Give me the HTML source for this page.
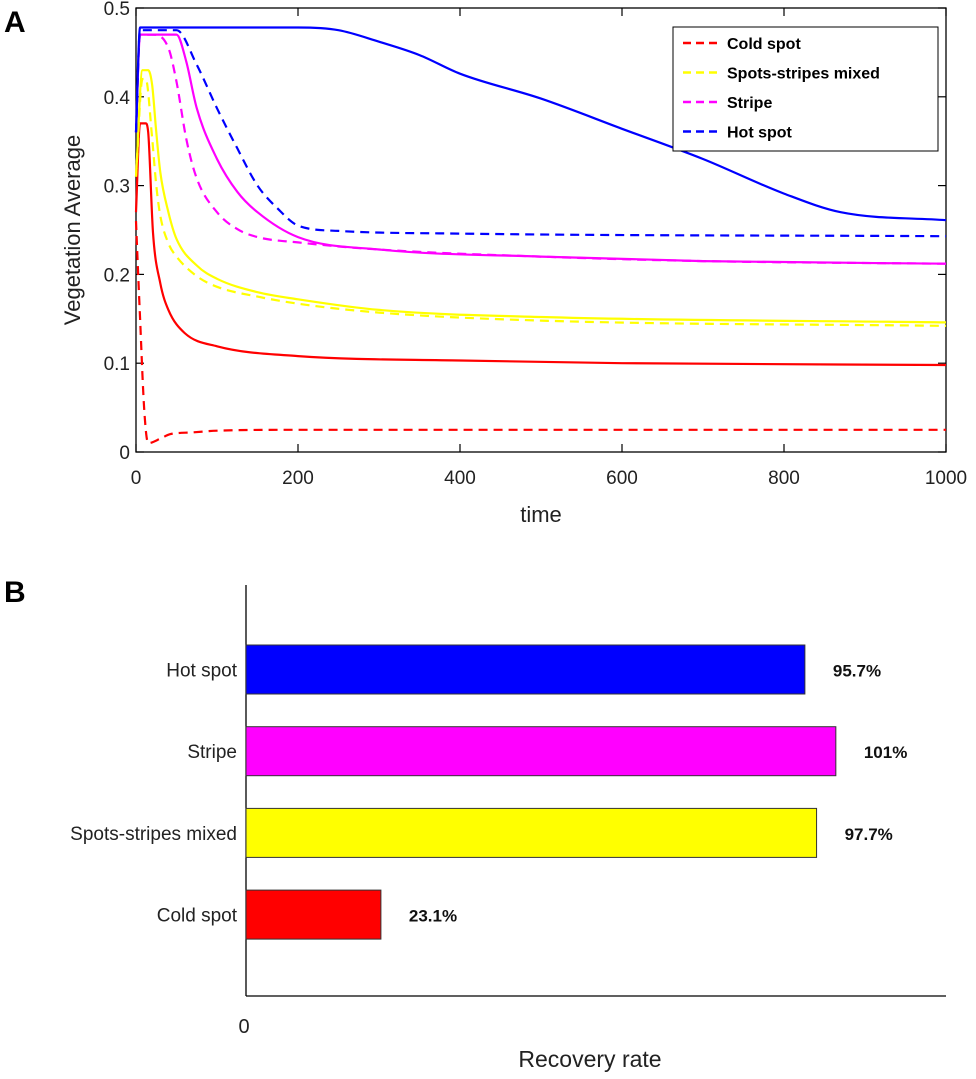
<!DOCTYPE html>
<html><head><meta charset="utf-8"><style>
body{margin:0;background:#fff;}
svg{display:block;font-family:"Liberation Sans",Arial,sans-serif;}
</style></head><body>
<svg id="c" width="976" height="1079" viewBox="0 0 976 1079"></svg>
<script>
// ---- Panel A data ----
const xTicks=[0,200,400,600,800,1000];
const yTicks=[0,0.1,0.2,0.3,0.4,0.5];
const seriesNames=["Cold spot","Spots-stripes mixed","Stripe","Hot spot"];
const seriesColors=["#ff0000","#ffff00","#ff00ff","#0000ff"];
const coldT=[0,5,12,15,21,30,40,60,100,200,400,600,1000];
const coldSolid=[0.27,0.37,0.37,0.36,0.247,0.19,0.16,0.134,0.119,0.108,0.103,0.100,0.098];
const coldDT=[0,5,10,15,30,42,68,100,200,1000];
const coldDashed=[0.26,0.15,0.05,0.01,0.015,0.02,0.022,0.024,0.025,0.025];
const mixT=[0,8,15,20,25,30,40,50,75,100,150,200,300,500,1000];
const mixSolid=[0.31,0.43,0.43,0.413,0.36,0.315,0.27,0.24,0.21,0.195,0.18,0.172,0.16,0.152,0.146];
const mixDT=[0,8,12,20,25,30,40,50,75,100,150,200,300,500,1000];
const mixDashed=[0.31,0.42,0.42,0.353,0.30,0.266,0.235,0.22,0.198,0.186,0.175,0.167,0.157,0.148,0.142];
const stripeT=[0,5,50,62,75,100,125,150,200,300,500,700,1000];
const stripeSolid=[0.36,0.47,0.47,0.44,0.387,0.33,0.293,0.27,0.242,0.228,0.22,0.215,0.212];
const stripeDT=[0,5,20,40,50,62,75,100,125,150,200,300,500,700,1000];
const stripeDashed=[0.36,0.47,0.47,0.455,0.417,0.353,0.308,0.27,0.251,0.242,0.236,0.228,0.22,0.215,0.212];
const hotT=[0,5,200,250,300,350,400,500,600,700,800,870,1000];
const hotSolid=[0.36,0.478,0.478,0.475,0.462,0.447,0.426,0.398,0.364,0.330,0.291,0.27,0.261];
const hotDT=[0,5,50,75,100,125,150,175,200,250,400,1000];
const hotDashed=[0.36,0.475,0.475,0.436,0.387,0.342,0.30,0.274,0.255,0.249,0.246,0.243];
// ---- Panel B data ----
const barCats=["Hot spot","Stripe","Spots-stripes mixed","Cold spot"];
const barVals=[95.7,101,97.7,23.1];
const barLabels=["95.7%","101%","97.7%","23.1%"];
const barColors=["#0000ff","#ff00ff","#ffff00","#ff0000"];

const NS="http://www.w3.org/2000/svg";
const svg=document.getElementById('c');
function mk(tag,attrs,parent,text){const e=document.createElementNS(NS,tag);for(const k in attrs)e.setAttribute(k,attrs[k]);if(text!==undefined)e.textContent=text;(parent||svg).appendChild(e);return e;}

const L=136,R=946,T=8,B=452;
const xs=t=>L+(R-L)*t/1000;
const ys=v=>B-(B-T)*v/0.5;
let e;
e=mk('text',{x:4,y:32,'font-size':30,'font-weight':'bold'},svg,'A');

const gA=mk('g',{});

e=mk('rect',{x:L,y:T,width:R-L,height:B-T,fill:'none',stroke:'#000','stroke-width':1.3},gA);

xTicks.forEach(t=>{
 mk('line',{x1:xs(t),x2:xs(t),y1:B,y2:B-8,stroke:'#000','stroke-width':1.2},gA);
 mk('line',{x1:xs(t),x2:xs(t),y1:T,y2:T+8,stroke:'#000','stroke-width':1.2},gA);
 e=mk('text',{x:xs(t),y:B+32,'font-size':19,'text-anchor':'middle',fill:'#222'},gA,String(t));
 
});
yTicks.forEach(v=>{
 mk('line',{x1:L,x2:L+8,y1:ys(v),y2:ys(v),stroke:'#000','stroke-width':1.2},gA);
 mk('line',{x1:R,x2:R-8,y1:ys(v),y2:ys(v),stroke:'#000','stroke-width':1.2},gA);
 e=mk('text',{x:L-6,y:ys(v)+7,'font-size':19,'text-anchor':'end',fill:'#222'},gA,String(v));
 
});
e=mk('text',{x:0,y:0,'font-size':22,'text-anchor':'middle',fill:'#222',transform:'translate(80,230) rotate(-90)'},gA,'Vegetation Average');

e=mk('text',{x:541,y:522,'font-size':22,'text-anchor':'middle',fill:'#222'},gA,'time');


// monotone cubic path (Fritsch-Carlson)
function monoPath(px,py){
 const n=px.length,d=[],m=[];
 for(let i=0;i<n-1;i++)d.push((py[i+1]-py[i])/(px[i+1]-px[i]));
 m[0]=d[0];m[n-1]=d[n-2];
 for(let i=1;i<n-1;i++){m[i]=(d[i-1]*d[i]<=0)?0:(d[i-1]+d[i])/2;}
 for(let i=0;i<n-1;i++){
  if(d[i]===0){m[i]=0;m[i+1]=0;continue;}
  const a=m[i]/d[i],b=m[i+1]/d[i],s=a*a+b*b;
  if(s>9){const t=3/Math.sqrt(s);m[i]=t*a*d[i];m[i+1]=t*b*d[i];}
 }
 let s='M'+px[0].toFixed(1)+','+py[0].toFixed(1);
 for(let i=0;i<n-1;i++){
  const h=(px[i+1]-px[i])/3;
  s+=' C'+(px[i]+h).toFixed(1)+','+(py[i]+m[i]*h).toFixed(1)+' '+(px[i+1]-h).toFixed(1)+','+(py[i+1]-m[i+1]*h).toFixed(1)+' '+px[i+1].toFixed(1)+','+py[i+1].toFixed(1);
 }
 return s;
}
function line(ts,vs,color,dashed,name){
 const d=monoPath(ts.map(xs),vs.map(ys));
 const p=mk('path',{d:d,fill:'none',stroke:color,'stroke-width':2.2,'stroke-linejoin':'round'},gA);
 if(dashed)p.setAttribute('stroke-dasharray','9,6');
 
 
}
line(coldDT,coldDashed,seriesColors[0],true,'cold-spot-dashed-line');
line(coldT,coldSolid,seriesColors[0],false,'cold-spot-solid-line');
line(mixDT,mixDashed,seriesColors[1],true,'mixed-dashed-line');
line(mixT,mixSolid,seriesColors[1],false,'mixed-solid-line');
line(stripeDT,stripeDashed,seriesColors[2],true,'stripe-dashed-line');
line(stripeT,stripeSolid,seriesColors[2],false,'stripe-solid-line');
line(hotDT,hotDashed,seriesColors[3],true,'hot-spot-dashed-line');
line(hotT,hotSolid,seriesColors[3],false,'hot-spot-solid-line');

const lg=mk('g',{});

mk('rect',{x:673,y:27,width:265,height:124,fill:'#fff',stroke:'#000','stroke-width':1},lg);
seriesNames.forEach((n,i)=>{
 const y=43+i*29.5;
 const g=mk('g',{},lg);
 
 mk('line',{x1:683,x2:720,y1:y,y2:y,stroke:seriesColors[i],'stroke-width':2.4,'stroke-dasharray':'8,5'},g);
 mk('text',{x:727,y:y+6,'font-size':16,'font-weight':'bold',fill:'#000'},g,n);
});

e=mk('text',{x:4,y:602,'font-size':30,'font-weight':'bold'},svg,'B');

const gB=mk('g',{});

const BL=246,BB=996,BT=585,BR=946;
const bx=v=>BL+v*5.84;
mk('line',{x1:BL,x2:BL,y1:BT,y2:BB,stroke:'#000','stroke-width':1.3},gB);
mk('line',{x1:BL,x2:BR,y1:BB,y2:BB,stroke:'#000','stroke-width':1.3},gB);
barCats.forEach((c,i)=>{
 const y=645+i*81.7,h=49;
 const r=mk('rect',{x:BL,y:y,width:bx(barVals[i])-BL,height:h,fill:barColors[i],stroke:'#333','stroke-width':1},gB);
 
 
 let t=mk('text',{x:237,y:y+h/2+7,'font-size':19,'text-anchor':'end',fill:'#222'},gB,c);
 
 t=mk('text',{x:bx(barVals[i])+28,y:y+h/2+7,'font-size':17,'font-weight':'bold',fill:'#111'},gB,barLabels[i]);
 
});
e=mk('text',{x:244,y:1033,'font-size':20,'text-anchor':'middle',fill:'#222'},gB,'0');

e=mk('text',{x:590,y:1067,'font-size':23,'text-anchor':'middle',fill:'#222'},gB,'Recovery rate');

</script>
</body></html>
